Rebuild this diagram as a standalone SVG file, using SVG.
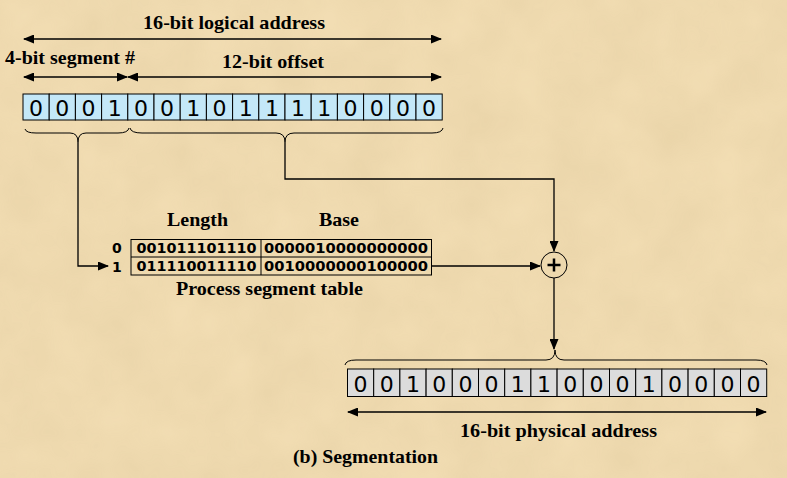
<svg xmlns="http://www.w3.org/2000/svg" width="787" height="478" viewBox="0 0 787 478">
<style>
.title{font-family:"Liberation Serif",serif;font-weight:bold;font-size:19.5px;fill:#000}
.bit{font-family:"DejaVu Sans",sans-serif;font-size:22px;fill:#000;text-anchor:middle}
.tab{font-family:"DejaVu Sans",sans-serif;font-weight:bold;font-size:13.5px;fill:#000}
.lbl{font-family:"DejaVu Sans",sans-serif;font-weight:bold;font-size:14px;fill:#000}
.ln{fill:none;stroke:#000;stroke-width:1.3}
.br{fill:none;stroke:#000;stroke-width:1}
.cellb{fill:#c4e8f8;stroke:#000;stroke-width:1}
.cellg{fill:#dcdcdc;stroke:#000;stroke-width:1}
</style>
<defs>
<marker id="ah" markerWidth="11" markerHeight="9" refX="10" refY="4.5" orient="auto-start-reverse" markerUnits="userSpaceOnUse">
<path d="M0,0 L11,4.5 L0,9 z" fill="#000"/>
</marker>
<filter id="tex" x="0" y="0" width="100%" height="100%">
<feTurbulence type="fractalNoise" baseFrequency="0.02" numOctaves="3" seed="4"/>
<feColorMatrix type="matrix" values="0 0 0 0 0.55  0 0 0 0 0.42  0 0 0 0 0.2  0 0 0 0.35 -0.05"/>
</filter>
</defs>
<rect width="787" height="478" fill="#f2ddb3"/>
<rect width="787" height="478" filter="url(#tex)" opacity="0.6"/>

<g id="logical-labels">
<text class="title" x="143" y="29" textLength="182" lengthAdjust="spacingAndGlyphs">16-bit logical address</text>
<text class="title" x="5" y="64" textLength="130" lengthAdjust="spacingAndGlyphs">4-bit segment #</text>
<text class="title" x="222" y="68" textLength="102" lengthAdjust="spacingAndGlyphs">12-bit offset</text>
</g>

<g id="logical-address">
<g>
<rect class="cellb" x="23" y="94" width="26.2" height="26"/>
<rect class="cellb" x="49.2" y="94" width="26.2" height="26"/>
<rect class="cellb" x="75.4" y="94" width="26.2" height="26"/>
<rect class="cellb" x="101.6" y="94" width="26.2" height="26"/>
<rect class="cellb" x="127.8" y="94" width="26.2" height="26"/>
<rect class="cellb" x="154" y="94" width="26.2" height="26"/>
<rect class="cellb" x="180.2" y="94" width="26.2" height="26"/>
<rect class="cellb" x="206.4" y="94" width="26.2" height="26"/>
<rect class="cellb" x="232.6" y="94" width="26.2" height="26"/>
<rect class="cellb" x="258.8" y="94" width="26.2" height="26"/>
<rect class="cellb" x="285" y="94" width="26.2" height="26"/>
<rect class="cellb" x="311.2" y="94" width="26.2" height="26"/>
<rect class="cellb" x="337.4" y="94" width="26.2" height="26"/>
<rect class="cellb" x="363.6" y="94" width="26.2" height="26"/>
<rect class="cellb" x="389.8" y="94" width="26.2" height="26"/>
<rect class="cellb" x="416" y="94" width="26.2" height="26"/>
</g>
<g>
<text class="bit" x="36.1" y="115.5">0</text>
<text class="bit" x="62.3" y="115.5">0</text>
<text class="bit" x="88.5" y="115.5">0</text>
<text class="bit" x="114.7" y="115.5">1</text>
<text class="bit" x="140.9" y="115.5">0</text>
<text class="bit" x="167.1" y="115.5">0</text>
<text class="bit" x="193.3" y="115.5">1</text>
<text class="bit" x="219.5" y="115.5">0</text>
<text class="bit" x="245.7" y="115.5">1</text>
<text class="bit" x="271.9" y="115.5">1</text>
<text class="bit" x="298.1" y="115.5">1</text>
<text class="bit" x="324.3" y="115.5">1</text>
<text class="bit" x="350.5" y="115.5">0</text>
<text class="bit" x="376.7" y="115.5">0</text>
<text class="bit" x="402.9" y="115.5">0</text>
<text class="bit" x="429.1" y="115.5">0</text>
</g>
</g>

<g id="braces">
<path class="br" d="M25,129 Q26,133 36,133 L70,133 Q78,133 78,142 Q78,133 86,133 L118,133 Q128,133 129,128"/>
<path class="br" d="M130,128 Q131,133 142,133 L276,133 Q285,133 285,142 Q285,133 294,133 L432,133 Q442,133 443,128"/>
<path class="br" d="M345,365 Q346,360 356,360 L546,360 Q555,360 555,350 Q555,360 564,360 L756,360 Q766,360 767,365"/>
</g>

<g id="segment-table">
<text class="title" x="167" y="226" textLength="61" lengthAdjust="spacingAndGlyphs">Length</text>
<text class="title" x="319" y="226" textLength="40" lengthAdjust="spacingAndGlyphs">Base</text>
<rect x="131" y="239.5" width="300.5" height="35.5" fill="none" stroke="#000" stroke-width="1"/>
<line x1="131" y1="257" x2="431.5" y2="257" stroke="#000" stroke-width="1"/>
<line x1="261" y1="239.5" x2="261" y2="275" stroke="#000" stroke-width="1"/>
<text class="lbl" x="112" y="253">0</text>
<text class="lbl" x="112" y="272">1</text>
<text class="tab" x="136.5" y="253" textLength="120" lengthAdjust="spacingAndGlyphs">001011101110</text>
<text class="tab" x="136.5" y="271" textLength="120" lengthAdjust="spacingAndGlyphs">011110011110</text>
<text class="tab" x="264" y="253" textLength="164" lengthAdjust="spacingAndGlyphs">0000010000000000</text>
<text class="tab" x="264" y="271" textLength="164" lengthAdjust="spacingAndGlyphs">0010000000100000</text>
<text class="title" x="176" y="295" textLength="187" lengthAdjust="spacingAndGlyphs">Process segment table</text>
</g>

<g id="adder">
<circle cx="554" cy="265" r="13" fill="none" stroke="#000" stroke-width="1"/>
<line x1="547.5" y1="265" x2="560.5" y2="265" stroke="#000" stroke-width="2.5"/>
<line x1="554" y1="258.5" x2="554" y2="271.5" stroke="#000" stroke-width="2.5"/>
</g>

<g id="physical-address">
<g>
<rect class="cellg" x="347.5" y="369" width="26.2" height="27.5"/>
<rect class="cellg" x="373.7" y="369" width="26.2" height="27.5"/>
<rect class="cellg" x="399.9" y="369" width="26.2" height="27.5"/>
<rect class="cellg" x="426.1" y="369" width="26.2" height="27.5"/>
<rect class="cellg" x="452.3" y="369" width="26.2" height="27.5"/>
<rect class="cellg" x="478.5" y="369" width="26.2" height="27.5"/>
<rect class="cellg" x="504.7" y="369" width="26.2" height="27.5"/>
<rect class="cellg" x="530.9" y="369" width="26.2" height="27.5"/>
<rect class="cellg" x="557.1" y="369" width="26.2" height="27.5"/>
<rect class="cellg" x="583.3" y="369" width="26.2" height="27.5"/>
<rect class="cellg" x="609.5" y="369" width="26.2" height="27.5"/>
<rect class="cellg" x="635.7" y="369" width="26.2" height="27.5"/>
<rect class="cellg" x="661.9" y="369" width="26.2" height="27.5"/>
<rect class="cellg" x="688.1" y="369" width="26.2" height="27.5"/>
<rect class="cellg" x="714.3" y="369" width="26.2" height="27.5"/>
<rect class="cellg" x="740.5" y="369" width="26.2" height="27.5"/>
</g>
<g>
<text class="bit" x="360.6" y="392">0</text>
<text class="bit" x="386.8" y="392">0</text>
<text class="bit" x="413" y="392">1</text>
<text class="bit" x="439.2" y="392">0</text>
<text class="bit" x="465.4" y="392">0</text>
<text class="bit" x="491.6" y="392">0</text>
<text class="bit" x="517.8" y="392">1</text>
<text class="bit" x="544" y="392">1</text>
<text class="bit" x="570.2" y="392">0</text>
<text class="bit" x="596.4" y="392">0</text>
<text class="bit" x="622.6" y="392">0</text>
<text class="bit" x="648.8" y="392">1</text>
<text class="bit" x="675" y="392">0</text>
<text class="bit" x="701.2" y="392">0</text>
<text class="bit" x="727.4" y="392">0</text>
<text class="bit" x="753.6" y="392">0</text>
</g>
<text class="title" x="460" y="437" textLength="197" lengthAdjust="spacingAndGlyphs">16-bit physical address</text>
</g>

<g id="caption">
<text class="title" x="293" y="463" textLength="145" lengthAdjust="spacingAndGlyphs">(b) Segmentation</text>
</g>

<g id="connectors">
<line class="ln" x1="24" y1="39" x2="441" y2="39" marker-start="url(#ah)" marker-end="url(#ah)"/>
<line class="ln" x1="24" y1="77" x2="127" y2="77" marker-start="url(#ah)" marker-end="url(#ah)"/>
<line class="ln" x1="128" y1="77" x2="441" y2="77" marker-start="url(#ah)" marker-end="url(#ah)"/>
<line class="ln" x1="348" y1="412" x2="766" y2="412" marker-start="url(#ah)" marker-end="url(#ah)"/>
<path class="ln" d="M78,142 V266 H108" marker-end="url(#ah)"/>
<path class="ln" d="M285,142 V179 H554 V251" marker-end="url(#ah)"/>
<path class="ln" d="M431.5,266 H540" marker-end="url(#ah)"/>
<path class="ln" d="M554,278 V349" marker-end="url(#ah)"/>
</g>
</svg>
